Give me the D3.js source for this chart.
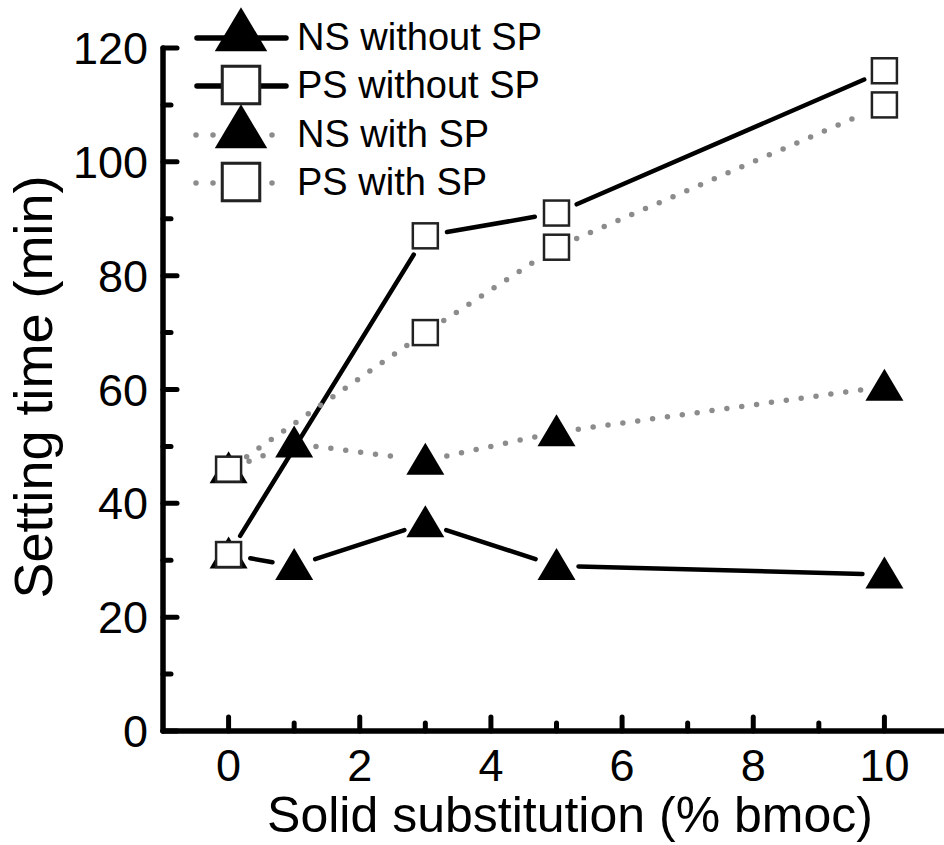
<!DOCTYPE html>
<html>
<head>
<meta charset="utf-8">
<script src="https://cdn.jsdelivr.net/npm/d3@7"></script>
<style>
  body { margin: 0; background: #fff; }
  svg { display: block; font-family: "Liberation Sans", Arial, sans-serif; }
</style>
</head>
<body>
<div id="chart"></div>
<script>
// data
const xValsNS = [0, 1, 3, 5, 10];
const xValsPS = [0, 3, 5, 10];
const nsWithout = [31, 29, 36.5, 29, 27.5];
const psWithout = [31, 87, 91, 116];
const nsWith = [46, 50.5, 47.5, 52.5, 60.5];
const psWith = [46, 70, 85, 110];
const xTicks = [0, 2, 4, 6, 8, 10];
const yTicks = [0, 20, 40, 60, 80, 100, 120];
const seriesNames = ["NS without SP", "PS without SP", "NS with SP", "PS with SP"];

const width = 944, height = 845;
const svg = d3.select("#chart").append("svg")
    .attr("width", width)
    .attr("height", height);

const x = d3.scaleLinear().domain([-1, 11]).range([163, 950]);
const y = d3.scaleLinear().domain([0, 120]).range([731, 48]);

const series = [
    { name: seriesNames[0], xs: xValsNS, ys: nsWithout, marker: "tri", dotted: false },
    { name: seriesNames[1], xs: xValsPS, ys: psWithout, marker: "sq", dotted: false },
    { name: seriesNames[2], xs: xValsNS, ys: nsWith, marker: "tri", dotted: true },
    { name: seriesNames[3], xs: xValsPS, ys: psWith, marker: "sq", dotted: true }
];

function drawMarker(g, type, k) {
    k = k || 1;
    if (type === "tri") {
        g.append("path").attr("d", `M0,${-18 * k} L${19 * k},${14 * k} L${-19 * k},${14 * k} Z`)
            .attr("fill", "#000");
    } else {
        const h = 12.5 * k;
        g.append("rect").attr("x", -h).attr("y", -h)
            .attr("width", 2 * h).attr("height", 2 * h)
            .attr("fill", "#fff").attr("stroke", "#222").attr("stroke-width", 2.5 * Math.sqrt(k));
    }
}

function lineStyle(sel, dotted) {
    if (dotted) {
        sel.attr("stroke", "#8c8c8c").attr("stroke-width", 5.5)
            .attr("stroke-linecap", "round").attr("stroke-dasharray", "0 15");
    } else {
        sel.attr("stroke", "#000").attr("stroke-width", 4.5)
            .attr("stroke-linecap", "round");
    }
}

// lines with small gaps around markers
const gap = 22;
series.forEach(s => {
    const g = svg.append("g");
    for (let i = 0; i < s.xs.length - 1; i++) {
        const x1 = x(s.xs[i]), y1 = y(s.ys[i]);
        const x2 = x(s.xs[i + 1]), y2 = y(s.ys[i + 1]);
        const len = Math.hypot(x2 - x1, y2 - y1);
        const ux = (x2 - x1) / len, uy = (y2 - y1) / len;
        g.append("line")
            .attr("x1", x1 + ux * gap).attr("y1", y1 + uy * gap)
            .attr("x2", x2 - ux * gap).attr("y2", y2 - uy * gap)
            .call(lineStyle, s.dotted);
    }
});

// markers (triangles first, squares on top)
[series[2], series[0], series[3], series[1]].forEach(s => {
    s.xs.forEach((xv, i) => {
        const g = svg.append("g").attr("transform", `translate(${x(xv)},${y(s.ys[i])})`);
        drawMarker(g, s.marker);
    });
});

// axes
const axisG = svg.append("g");
axisG.append("line").attr("x1", x(-1)).attr("x2", width).attr("y1", y(0)).attr("y2", y(0))
    .attr("stroke", "#000").attr("stroke-width", 5.5).attr("stroke-linecap", "round");
axisG.append("line").attr("x1", x(-1)).attr("x2", x(-1)).attr("y1", y(0)).attr("y2", y(120))
    .attr("stroke", "#000").attr("stroke-width", 5.5).attr("stroke-linecap", "round");

// x ticks (inward)
d3.range(0, 11).forEach(v => {
    const major = v % 2 === 0;
    axisG.append("line").attr("x1", x(v)).attr("x2", x(v))
        .attr("y1", y(0)).attr("y2", y(0) - (major ? 14 : 8))
        .attr("stroke", "#000").attr("stroke-width", 5).attr("stroke-linecap", "round");
});
xTicks.forEach(v => {
    axisG.append("text").attr("x", x(v)).attr("y", 781)
        .attr("text-anchor", "middle").attr("font-size", 45).text(v);
});

// y ticks (inward)
d3.range(0, 121, 10).forEach(v => {
    const major = v % 20 === 0;
    axisG.append("line").attr("x1", x(-1)).attr("x2", x(-1) + (major ? 14 : 8))
        .attr("y1", y(v)).attr("y2", y(v))
        .attr("stroke", "#000").attr("stroke-width", 5).attr("stroke-linecap", "round");
});
yTicks.forEach(v => {
    axisG.append("text").attr("x", 148).attr("y", y(v) + 16)
        .attr("text-anchor", "end").attr("font-size", 45).text(v);
});

// axis titles
svg.append("text").attr("x", 570).attr("y", 832)
    .attr("text-anchor", "middle").attr("font-size", 50)
    .text("Solid substitution (% bmoc)");
svg.append("text").attr("transform", `translate(52,387) rotate(-90)`)
    .attr("text-anchor", "middle").attr("font-size", 54)
    .text("Setting time (min)");

// legend
const legendY = [38, 86, 135, 183];
series.forEach((s, i) => {
    const g = svg.append("g").attr("transform", `translate(0,${legendY[i]})`);
    if (s.dotted) {
        g.append("line").attr("x1", 196).attr("x2", 214).attr("y1", 0).attr("y2", 0).call(lineStyle, true)
            .attr("stroke-dasharray", "0 17");
        g.append("line").attr("x1", 272).attr("x2", 273).attr("y1", 0).attr("y2", 0).call(lineStyle, true);
    } else {
        g.append("line").attr("x1", 197).attr("x2", 286).attr("y1", 0).attr("y2", 0)
            .call(lineStyle, false).attr("stroke-width", 5.5);
    }
    const m = g.append("g").attr("transform", `translate(241,${s.marker === "tri" ? -6 : -1})`);
    drawMarker(m, s.marker, s.marker === "tri" ? 1.38 : 1.5);
    g.append("text").attr("x", 297).attr("y", 12).attr("font-size", 38).text(s.name);
});
</script>
</body>
</html>
